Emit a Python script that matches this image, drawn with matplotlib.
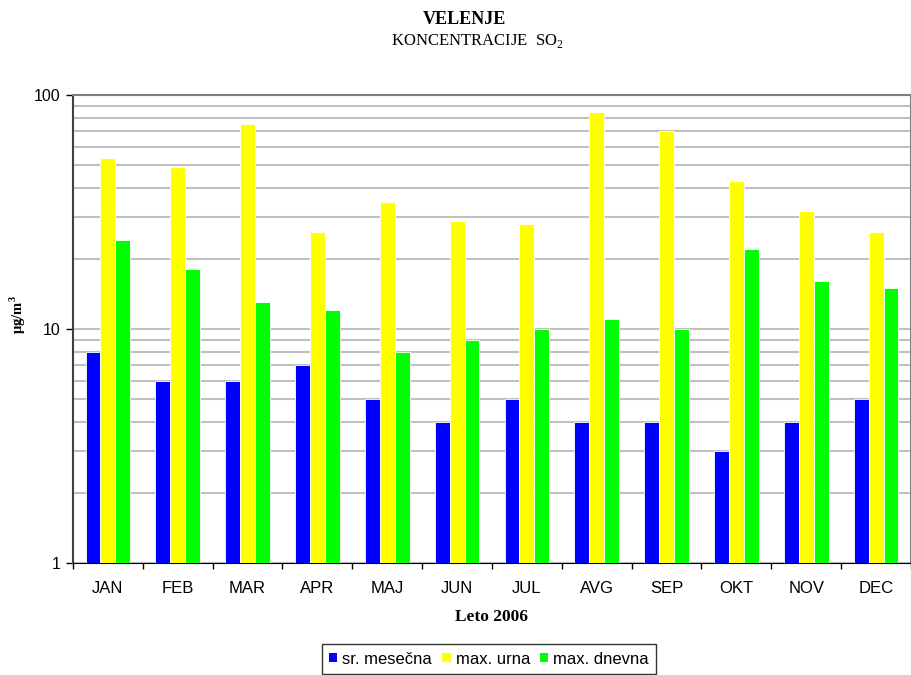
import numpy as np
import matplotlib
matplotlib.use("Agg")
import matplotlib.pyplot as plt
from matplotlib.ticker import FixedLocator, NullFormatter

## Data
months = ["JAN", "FEB", "MAR", "APR", "MAJ", "JUN", "JUL", "AVG", "SEP", "OKT", "NOV", "DEC"]
sr_mesecna = [8, 6, 6, 7, 5, 4, 5, 4, 4, 3, 4, 5]
max_urna = [54, 49, 75, 26, 35, 29, 28, 85, 70, 43, 32, 26]
max_dnevna = [24, 18, 13, 12, 8, 9, 10, 11, 10, 22, 16, 15]

series = [("sr. mesečna", sr_mesecna, "#0000ff"),
          ("max. urna", max_urna, "#ffff00"),
          ("max. dnevna", max_dnevna, "#00ff00")]

plt.rcParams["mathtext.fontset"] = "custom"
plt.rcParams["mathtext.rm"] = "Liberation Serif"

W, H = 912, 675
fig = plt.figure(figsize=(W / 100, H / 100), dpi=100)
ax = fig.add_axes([73 / W, 1 - 563 / H, (911 - 73) / W, (563 - 95) / H])

x = np.arange(len(months))
bw = 0.214
for i, (name, vals, col) in enumerate(series):
  ax.bar(x + (i - 1) * bw, vals, bw, color=col, edgecolor="white",
         linewidth=0.6, label=name, zorder=3)

ax.set_yscale("log")
ax.set_ylim(1, 100)
ax.set_xlim(-0.5, len(months) - 0.5)

ax.yaxis.set_major_locator(FixedLocator([1, 10, 100]))
ax.set_yticklabels(["1", "10", "100"])
ax.yaxis.set_minor_formatter(NullFormatter())
ax.grid(axis="y", which="both", color="#c0c0c0", linewidth=1.5, zorder=0)
ax.set_axisbelow(True)

ax.set_xticks(x)
ax.set_xticklabels(months)
ax.set_xticks(np.arange(-0.5, len(months), 1), minor=True)
ax.tick_params(axis="x", which="major", length=0, pad=13)
ax.tick_params(axis="x", which="minor", length=4, width=1, direction="out")
ax.tick_params(axis="y", which="major", length=5, width=1, pad=4, direction="out")
ax.tick_params(axis="y", which="minor", length=0)
for lab in ax.get_xticklabels():
  lab.set_fontfamily("Liberation Sans")
  lab.set_fontsize(12)
for lab in ax.get_yticklabels():
  lab.set_fontfamily("Liberation Sans")
  lab.set_fontsize(11.5)

ax.spines["left"].set_color("#404040")
ax.spines["left"].set_linewidth(1.5)
ax.spines["bottom"].set_color("black")
ax.spines["top"].set_color("#808080")
ax.spines["top"].set_linewidth(1.5)
ax.spines["right"].set_color("#808080")
ax.spines["right"].set_linewidth(1.5)

## Titles and labels
fig.text(464 / W, 1 - 20 / H, "VELENJE", ha="center", va="center",
         family="Liberation Serif", weight="bold", fontsize=13)
fig.text(477 / W, 1 - 41 / H, "KONCENTRACIJE  SO$_\\mathregular{2}$", ha="center", va="center",
         family="Liberation Serif", fontsize=12)
fig.text(18 / W, 1 - 315 / H, "μg/m$^\\mathregular{3}$", ha="center", va="center",
         rotation=90, family="Liberation Serif", weight="bold", fontsize=10.5)
fig.text(492 / W, 1 - 617 / H, "Leto 2006", ha="center", va="center",
         family="Liberation Serif", weight="bold", fontsize=12.5)

leg = fig.legend(loc="upper center", bbox_to_anchor=(489 / W, 1 - 644 / H), ncol=3,
                 prop={"family": "Liberation Sans", "size": 12}, frameon=True,
                 fancybox=False, edgecolor="black", handlelength=0.5, handleheight=0.5,
                 handletextpad=0.3, columnspacing=0.6, borderpad=0.45, borderaxespad=0)
leg.get_frame().set_linewidth(1)
for h in leg.legend_handles:
  h.set_edgecolor("none")

fig.savefig("out.png", dpi=100)
